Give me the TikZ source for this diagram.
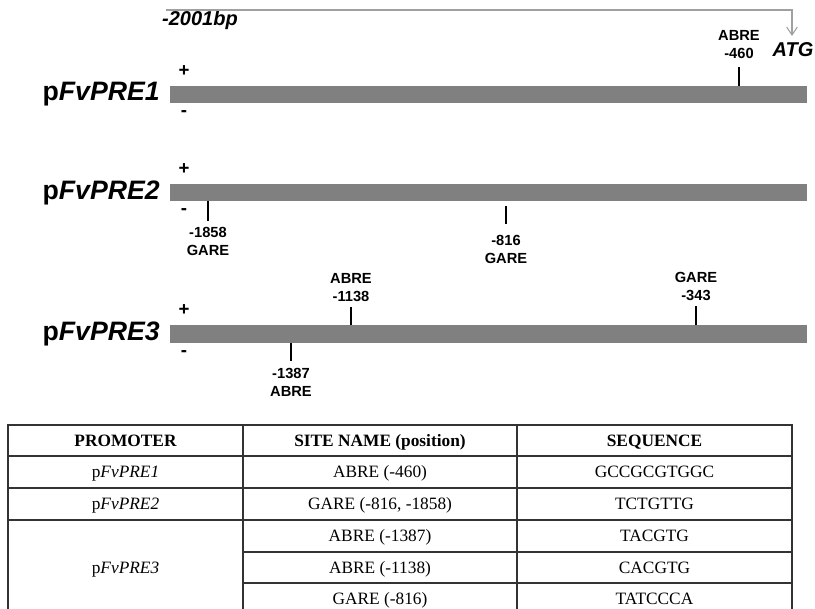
\documentclass[tikz,border=0pt]{standalone}
\usepackage{fontspec}
\setmainfont{Liberation Serif}
\newfontfamily\arialfont{Liberation Sans}
\usetikzlibrary{arrows.meta}
\definecolor{bargray}{HTML}{808080}
\definecolor{linegray}{HTML}{A0A0A0}
\tikzset{
  bar/.style={fill=bargray, inner sep=0pt, minimum width=477.75pt, minimum height=13pt, anchor=west},
  prom/.style={font=\arialfont\bfseries\fontsize{20}{24}\selectfont, inner sep=0pt, anchor=east},
  strand/.style={font=\arialfont\bfseries\fontsize{14}{16}\selectfont, inner sep=0pt},
  site/.style={font=\arialfont\bfseries\fontsize{11}{13.5}\selectfont, align=center, inner sep=0pt},
  mark label/.style={font=\arialfont\bfseries\itshape\fontsize{15}{18}\selectfont, inner sep=0pt},
  tick/.style={line width=1.4pt},
  span/.style={draw=linegray, line width=0.8pt, -{Straight Barb[length=6pt,width=8pt]}},
  cell/.style={font=\fontsize{13}{15}\selectfont, inner sep=0pt, text height=8.6pt, text depth=0pt},
  hcell/.style={cell, font=\bfseries\fontsize{13}{15}\selectfont},
  tabline/.style={line width=0.9pt, draw=black!80}
}
\begin{document}
\begin{tikzpicture}[x=0.75pt,y=-0.75pt]
  \useasboundingbox (0,0) rectangle (815,609);
  % span to start codon
  \node[mark label] (bp) at (200,20) {-2001bp};
  \node[mark label] (atg) at (793,50) {ATG};
  \coordinate (spanstart) at (166,10);
  \draw[span] (spanstart) -| ([xshift=-0.75pt,yshift=5pt]atg.north);
  % promoter bars
  \node[bar] (bar1) at (170,94.5) {};
  \node[bar] (bar2) at (170,192.5) {};
  \node[bar] (bar3) at (170,334) {};
  \node[prom] (name1) at ([xshift=-7.5pt]bar1.west) {p\textit{FvPRE1}};
  \node[prom] (name2) at ([xshift=-7.5pt]bar2.west) {p\textit{FvPRE2}};
  \node[prom] (name3) at ([xshift=-7.5pt]bar3.west) {p\textit{FvPRE3}};
  \node[strand] (plus1) at ([shift={(14,-23.5)}]bar1.west) {+};
  \node[strand] (minus1) at ([shift={(14,19.5)}]bar1.west) {-};
  \node[strand] (plus2) at ([shift={(14,-23.5)}]bar2.west) {+};
  \node[strand] (minus2) at ([shift={(14,19.5)}]bar2.west) {-};
  \node[strand] (plus3) at ([shift={(14,-23.5)}]bar3.west) {+};
  \node[strand] (minus3) at ([shift={(14,19.5)}]bar3.west) {-};
  % sites
  \node[site] (s460) at (739,45) {ABRE\\-460};
  \draw[tick] (s460 |- bar1.north) -- ++(0,-19);
  \node[site] (s1858) at (208,241) {-1858\\GARE};
  \draw[tick] (s1858 |- bar2.south) -- ++(0,20);
  \node[site] (s816) at (506,249) {-816\\GARE};
  \draw[tick] (s816 |- bar2.south) ++(0,5) -- ++(0,18);
  \node[site] (s1138) at (351,287.5) {ABRE\\-1138};
  \draw[tick] (s1138 |- bar3.north) -- ++(0,-18);
  \node[site] (s343) at (696,286.5) {GARE\\-343};
  \draw[tick] (s343 |- bar3.north) -- ++(0,-19);
  \node[site] (s1387) at (291,382.5) {-1387\\ABRE};
  \draw[tick] (s1387 |- bar3.south) -- ++(0,18);
  % table
  \draw[tabline] (8,425) rectangle (792,620);
  \draw[tabline] (243,425) -- (243,620);
  \draw[tabline] (517,425) -- (517,620);
  \foreach \y in {456,488,520}
    \draw[tabline] (8,\y) -- (792,\y);
  \foreach \y in {552,583}
    \draw[tabline] (243,\y) -- (792,\y);
  \node[hcell] (hprom) at (125.5,440.5) {PROMOTER};
  \node[hcell] (hsite) at (380,440.5) {SITE NAME (position)};
  \node[hcell] (hseq) at (654.5,440.5) {SEQUENCE};
  \node[cell] (tp1) at (125.5,472) {p\textit{FvPRE1}};
  \node[cell] (ts1) at (380,472) {ABRE (-460)};
  \node[cell] (tq1) at (654.5,472) {GCCGCGTGGC};
  \node[cell] (tp2) at (125.5,504) {p\textit{FvPRE2}};
  \node[cell] (ts2) at (380,504) {GARE (-816, -1858)};
  \node[cell] (tq2) at (654.5,504) {TCTGTTG};
  \node[cell] (tp3) at (125.5,567.5) {p\textit{FvPRE3}};
  \node[cell] (ts3) at (380,536) {ABRE (-1387)};
  \node[cell] (tq3) at (654.5,536) {TACGTG};
  \node[cell] (ts4) at (380,567.5) {ABRE (-1138)};
  \node[cell] (tq4) at (654.5,567.5) {CACGTG};
  \node[cell] (ts5) at (380,599) {GARE (-816)};
  \node[cell] (tq5) at (654.5,599) {TATCCCA};
\end{tikzpicture}
\end{document}
